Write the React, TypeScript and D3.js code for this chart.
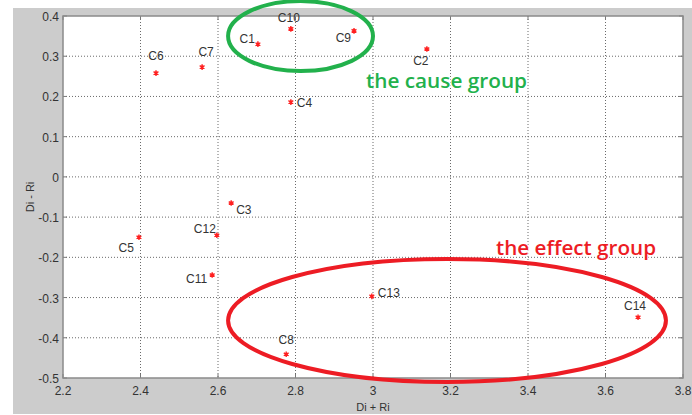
import React from "react";
import * as d3 from "d3";

const names = ["C1", "C2", "C3", "C4", "C5", "C6", "C7", "C8", "C9", "C10", "C11", "C12", "C13", "C14"];
const diPlusRi = [2.703, 3.139, 2.634, 2.788, 2.396, 2.44, 2.559, 2.776, 2.951, 2.788, 2.585, 2.597, 2.997, 3.684];
const diMinusRi = [0.33, 0.318, -0.065, 0.186, -0.15, 0.258, 0.273, -0.441, 0.363, 0.368, -0.244, -0.145, -0.297, -0.349];
const xTicks = [2.2, 2.4, 2.6, 2.8, 3.0, 3.2, 3.4, 3.6, 3.8];
const yTicks = [0.4, 0.3, 0.2, 0.1, 0, -0.1, -0.2, -0.3, -0.4, -0.5];
const xTickLabels = ["2.2", "2.4", "2.6", "2.8", "3", "3.2", "3.4", "3.6", "3.8"];
const yTickLabels = ["0.4", "0.3", "0.2", "0.1", "0", "-0.1", "-0.2", "-0.3", "-0.4", "-0.5"];

// label placement relative to each point: [dx, dy, anchor]
const labelPlacement: Record<string, [number, number, string]> = {
  C1: [-3, -1, "end"],
  C2: [-6, 16, "middle"],
  C3: [5, 11, "start"],
  C4: [6, 5, "start"],
  C5: [-5, 15, "end"],
  C6: [0, -13, "middle"],
  C7: [4, -11, "middle"],
  C8: [0, -10, "middle"],
  C9: [-3, 11, "end"],
  C10: [-2, -7, "middle"],
  C11: [-5, 8, "end"],
  C12: [-1, -2, "end"],
  C13: [6, 1, "start"],
  C14: [-3, -7, "middle"],
};

// annotation groups (in data units): center x, center y, radius x, radius y
const causeGroup = { cx: 2.813, cy: 0.35, rx: 0.187, ry: 0.087, text: "the cause group" };
const effectGroup = { cx: 3.191, cy: -0.357, rx: 0.565, ry: 0.153, text: "the effect group" };

const W = 692;
const H = 415;
const left = 63, right = 683, top = 16, bottom = 378;

export default function App() {
  const x = d3.scaleLinear().domain([2.2, 3.8]).range([left, right]);
  const y = d3.scaleLinear().domain([-0.5, 0.4]).range([bottom, top]);
  const star = d3.symbol().type(d3.symbolAsterisk).size(22)();
  const font = "'Liberation Sans', Arial, sans-serif";
  const green = "#22b14c";
  const red = "#ed1c24";

  return (
    <svg width={W} height={H} style={{ position: "absolute", left: 0, top: 0, display: "block" }}>
      <rect x={0} y={0} width={W} height={H} fill="#ffffff" />
      <rect x={13} y={8} width={W - 13} height={406} fill="#cccccc" />
      <rect x={left} y={top} width={right - left} height={bottom - top} fill="#ffffff" />
      {/* grid */}
      {xTicks.slice(1, -1).map((t) => (
        <line key={"gx" + t} x1={x(t)} x2={x(t)} y1={top} y2={bottom} stroke="#6a6a6a" strokeWidth={1} strokeDasharray="1,2" />
      ))}
      {yTicks.slice(1, -1).map((t) => (
        <line key={"gy" + t} x1={left} x2={right} y1={y(t)} y2={y(t)} stroke="#6a6a6a" strokeWidth={1} strokeDasharray="1,2" />
      ))}
      {/* ticks */}
      {xTicks.map((t) => (
        <g key={"tx" + t}>
          <line x1={x(t)} x2={x(t)} y1={bottom} y2={bottom - 4} stroke="#777" />
          <line x1={x(t)} x2={x(t)} y1={top} y2={top + 4} stroke="#777" />
        </g>
      ))}
      {yTicks.map((t) => (
        <g key={"ty" + t}>
          <line x1={left} x2={left + 4} y1={y(t)} y2={y(t)} stroke="#777" />
          <line x1={right} x2={right - 4} y1={y(t)} y2={y(t)} stroke="#777" />
        </g>
      ))}
      <rect x={left} y={top} width={right - left} height={bottom - top} fill="none" stroke="#8a8a8a" strokeWidth={1.5} />
      {/* tick labels */}
      {xTicks.map((t, i) => (
        <text key={"lx" + t} x={x(t)} y={bottom + 17} textAnchor="middle" fontFamily={font} fontSize={12} fill="#333">
          {xTickLabels[i]}
        </text>
      ))}
      {yTicks.map((t, i) => (
        <text key={"ly" + t} x={left - 4} y={y(t) + 5} textAnchor="end" fontFamily={font} fontSize={12} fill="#333">
          {yTickLabels[i]}
        </text>
      ))}
      {/* axis labels */}
      <text x={(left + right) / 2} y={411} textAnchor="middle" fontFamily={font} fontSize={11} fill="#333">
        Di + Ri
      </text>
      <text transform={`translate(34,${(top + bottom) / 2}) rotate(-90)`} textAnchor="middle" fontFamily={font} fontSize={11} fill="#333">
        Di - Ri
      </text>
      {/* points */}
      {names.map((n, i) => {
        const px = x(diPlusRi[i]);
        const py = y(diMinusRi[i]);
        const [dx, dy, anchor] = labelPlacement[n];
        return (
          <g key={n}>
            <path d={star as string} transform={`translate(${px},${py})`} fill="none" stroke="#ff2020" strokeWidth={1.4} />
            <circle cx={px} cy={py} r={1.6} fill="#ff2020" />
            <text x={px + dx} y={py + dy} textAnchor={anchor as any} fontFamily={font} fontSize={12} fill="#333">
              {n}
            </text>
          </g>
        );
      })}
      {/* group annotations */}
      <ellipse cx={x(causeGroup.cx)} cy={y(causeGroup.cy)} rx={x(causeGroup.cx + causeGroup.rx) - x(causeGroup.cx)} ry={y(causeGroup.cy - causeGroup.ry) - y(causeGroup.cy)} fill="none" stroke={green} strokeWidth={4} />
      <ellipse cx={x(effectGroup.cx)} cy={y(effectGroup.cy)} rx={x(effectGroup.cx + effectGroup.rx) - x(effectGroup.cx)} ry={y(effectGroup.cy - effectGroup.ry) - y(effectGroup.cy)} fill="none" stroke={red} strokeWidth={4} />
      <text x={366} y={88} fontFamily="'Open Sans', sans-serif" fontWeight={600} fontSize={19} fill={green} stroke="#ffffff" strokeWidth={2.5} strokeOpacity={0.7} paintOrder="stroke" textLength={161} lengthAdjust="spacingAndGlyphs">
        {causeGroup.text}
      </text>
      <text x={496} y={255} fontFamily="'Open Sans', sans-serif" fontWeight={600} fontSize={20} fill={red} stroke="#ffffff" strokeWidth={2.5} strokeOpacity={0.7} paintOrder="stroke" textLength={160} lengthAdjust="spacingAndGlyphs">
        {effectGroup.text}
      </text>
    </svg>
  );
}
